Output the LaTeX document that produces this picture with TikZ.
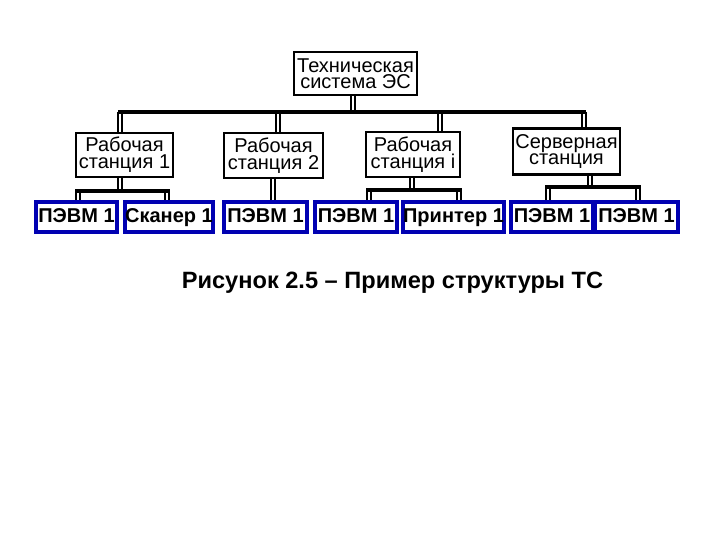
\documentclass[tikz,border=0pt]{standalone}
\usepackage{fontspec}
\setmainfont{Liberation Sans}
\begin{document}
\begin{tikzpicture}[x=0.75pt,y=-0.75pt,
  box/.style={draw=black,line width=2.1pt,fill=white,inner sep=0pt,align=center,font=\fontsize{15}{12.75}\selectfont},
  leaf/.style={draw=blue!70!black,line width=2.5pt,fill=white,inner sep=0pt,minimum height=30*0.75pt,text height=11pt,text depth=3.5pt,font=\bfseries\fontsize{15}{15}\selectfont},
  dbl/.style={draw=black,double=white,line width=1pt,double distance=2pt},
  bus/.style={draw=black,line width=2.4pt,line cap=rect}]
\useasboundingbox[fill=white] (0,0) rectangle (720,540);
% top
\node[box,minimum width=123*0.75pt,minimum height=43*0.75pt,font=\fontsize{15}{10.5}\selectfont] (top) at (355.5,73.5) {Техническая\\система ЭС};
% stations
\node[box,minimum width=97*0.75pt,minimum height=44*0.75pt] (s1) at (124.5,155) {Рабочая\\станция 1};
\node[box,minimum width=99*0.75pt,minimum height=45*0.75pt] (s2) at (273.5,155.5) {Рабочая\\станция 2};
\node[box,minimum width=94*0.75pt,minimum height=45*0.75pt] (si) at (413,154.5) {Рабочая\\станция i};
\node[box,minimum width=107*0.75pt,minimum height=46*0.75pt,font=\fontsize{15}{12}\selectfont] (srv) at (566.5,151.5) {Серверная\\станция};
% leaves
\node[leaf,minimum width=81*0.75pt] (b1) at (76.5,217) {ПЭВМ 1};
\node[leaf,minimum width=88*0.75pt] (b2) at (169,217) {Сканер 1};
\node[leaf,minimum width=83*0.75pt] (b3) at (265.5,217) {ПЭВМ 1};
\node[leaf,minimum width=82*0.75pt] (b4) at (356,217) {ПЭВМ 1};
\node[leaf,minimum width=101*0.75pt] (b5) at (453.5,217) {Принтер 1};
\node[leaf,minimum width=82*0.75pt] (b6) at (552,217) {ПЭВМ 1};
\node[leaf,minimum width=83*0.75pt] (b7) at (636.5,217) {ПЭВМ 1};
% junctions
\coordinate (busT) at (353,112);
\coordinate (busL) at (120,112);
\coordinate (busR) at (584,112);
\coordinate (j2) at (278,112);
\coordinate (ji) at (440,112);
\coordinate (s1j) at (120,191);
\coordinate (s1L) at (77,191);
\coordinate (s1R) at (168,191);
\coordinate (s1a) at (78,191);
\coordinate (s1b) at (167,191);
\coordinate (s2j) at (273,191);
\coordinate (sij) at (412,190);
\coordinate (siL) at (368,190);
\coordinate (siR) at (460,190);
\coordinate (sia) at (369,190);
\coordinate (sib) at (459,190);
\coordinate (srj) at (590,187);
\coordinate (srL) at (547,187);
\coordinate (srR) at (639,187);
\coordinate (sra) at (548,187);
\coordinate (srb) at (638,187);
% vertical double connectors
\draw[dbl] (top.south -| busT) -- (busT);
\draw[dbl] (busL) -- (s1.north -| busL);
\draw[dbl] (j2) -- (s2.north -| j2);
\draw[dbl] (ji) -- (si.north -| ji);
\draw[dbl] (busR) -- (srv.north -| busR);
\draw[dbl] (s1.south -| s1j) -- (s1j);
\draw[dbl] (s1a) -- (b1.north -| s1a);
\draw[dbl] (s1b) -- (b2.north -| s1b);
\draw[dbl] (s2.south -| s2j) -- (b3.north -| s2j);
\draw[dbl] (si.south -| sij) -- (sij);
\draw[dbl] (sia) -- (b4.north -| sia);
\draw[dbl] (sib) -- (b5.north -| sib);
\draw[dbl] (srv.south -| srj) -- (srj);
\draw[dbl] (sra) -- (b6.north -| sra);
\draw[dbl] (srb) -- (b7.north -| srb);
% buses
\draw[bus] (busL) -- (busR);
\draw[bus] (s1L) -- (s1R);
\draw[bus] (siL) -- (siR);
\draw[bus] (srL) -- (srR);
% caption
\node[anchor=base,font=\bfseries\fontsize{17.7}{18}\selectfont,inner sep=0pt] (cap) at (392.5,288) {Рисунок 2.5 – Пример структуры ТС};
\end{tikzpicture}
\end{document}
